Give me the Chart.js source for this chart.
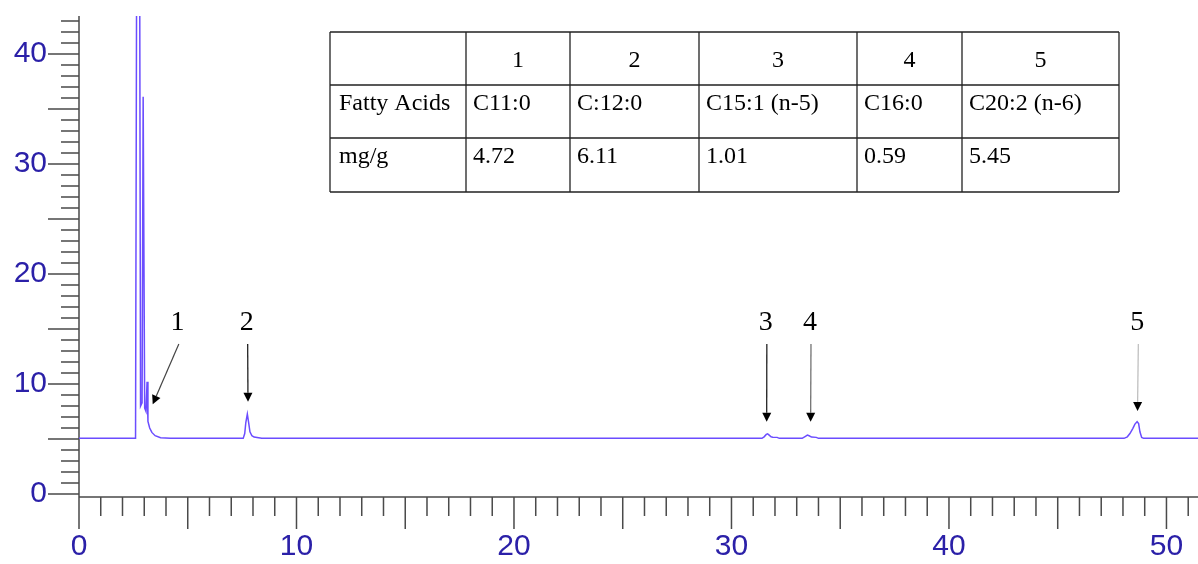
<!DOCTYPE html>
<html><head><meta charset="utf-8">
<script src="https://cdn.jsdelivr.net/npm/chart.js@4.4.1/dist/chart.umd.min.js"></script>
<style>html,body{margin:0;padding:0;background:#fff;overflow:hidden}canvas{display:block}</style>
</head><body>
<canvas id="c" width="1198" height="564"></canvas>
<script>
// ---- data ----
const retentionTime = [0, 2.60, 2.65, 2.79, 2.83, 2.90, 2.95, 3.02, 3.08, 3.13, 3.17, 3.25, 3.35, 3.50, 3.75, 4.20,
  7.55, 7.62, 7.67, 7.74, 7.80, 7.86, 7.95, 8.05, 8.40,
  31.40, 31.50, 31.60, 31.66, 31.72, 31.82, 31.90, 32.10, 32.20,
  33.25, 33.40, 33.49, 33.57, 33.68, 33.90, 34.00,
  48.05, 48.20, 48.32, 48.45, 48.55, 48.65, 48.72, 48.78, 48.86, 48.95, 51.45];
const signal = [5.06, 5.06, 48, 48, 8.0, 8.3, 36.1, 7.8, 7.5, 10.2, 6.6, 6.0, 5.6, 5.3, 5.12, 5.06,
  5.06, 5.5, 6.5, 7.27, 6.5, 5.66, 5.3, 5.18, 5.06,
  5.06, 5.2, 5.42, 5.47, 5.38, 5.2, 5.17, 5.15, 5.06,
  5.06, 5.25, 5.36, 5.3, 5.18, 5.15, 5.06,
  5.06, 5.2, 5.5, 5.95, 6.36, 6.57, 6.4, 5.66, 5.15, 5.06, 5.06];
const xTickLabels = [0, 10, 20, 30, 40, 50];
const yTickLabels = [0, 10, 20, 30, 40];
const peakNumbers = ['1', '2', '3', '4', '5'];
const peakLabelTime = [4.53, 7.71, 31.58, 33.61, 48.66];
const arrowTipTime = [3.39, 7.77, 31.62, 33.64, 48.67];
const arrowTipSignal = [8.15, 8.39, 6.57, 6.57, 7.55];
const peakLabelSignal = 15.55;
const arrowStartSignal = 13.64;
const tableHeader = ['', '1', '2', '3', '4', '5'];
const fattyAcids = ['Fatty Acids', 'C11:0', 'C:12:0', 'C15:1 (n-5)', 'C16:0', 'C20:2 (n-6)'];
const contentMgG = ['mg/g', '4.72', '6.11', '1.01', '0.59', '5.45'];

// ---- styles ----
const arrowLineColors = ['#444', '#111', '#111', '#666', '#bbb'];
const AXIS = '#4a4a4a';
const TICKTXT = '#2b20a8';

const axesPlugin = {
  id: 'axesTicks',
  beforeDatasetsDraw(chart) {
    const {ctx, chartArea: a, scales: {x, y}} = chart;
    ctx.save();
    ctx.strokeStyle = AXIS; ctx.lineWidth = 1.5;
    ctx.beginPath();
    ctx.moveTo(a.left, a.top); ctx.lineTo(a.left, a.bottom + 32);
    ctx.moveTo(a.left, a.bottom); ctx.lineTo(a.right, a.bottom);
    y.ticks.forEach(t => {
      if (t.value < y.min || t.value > y.max) return;
      const p = y.getPixelForValue(t.value);
      const L = t.value % 5 === 0 ? 31 : 18;
      ctx.moveTo(a.left - L, p); ctx.lineTo(a.left, p);
    });
    x.ticks.forEach(t => {
      if (t.value < x.min || t.value > x.max) return;
      const p = x.getPixelForValue(t.value);
      const L = t.value % 5 === 0 ? 32 : 19;
      ctx.moveTo(p, a.bottom); ctx.lineTo(p, a.bottom + L);
    });
    ctx.stroke();
    ctx.restore();
  },
  afterDraw(chart) {
    const {ctx, scales: {x, y}} = chart;
    ctx.save();
    // peak labels and arrows
    peakNumbers.forEach((n, i) => {
      const lx = x.getPixelForValue(peakLabelTime[i]);
      const ly = y.getPixelForValue(peakLabelSignal);
      ctx.font = '28px "Liberation Serif"';
      ctx.fillStyle = '#000'; ctx.textAlign = 'center'; ctx.textBaseline = 'middle';
      ctx.fillText(n, lx, ly);
      const sx = lx + (i === 0 ? 1.3 : 1), sy = y.getPixelForValue(arrowStartSignal);
      const tx = x.getPixelForValue(arrowTipTime[i]), ty = y.getPixelForValue(arrowTipSignal[i]);
      const ang = Math.atan2(ty - sy, tx - sx);
      const hl = 9, hw = 4.5;
      const bx = tx - hl * Math.cos(ang), by = ty - hl * Math.sin(ang);
      ctx.strokeStyle = arrowLineColors[i]; ctx.lineWidth = 1.2;
      ctx.beginPath(); ctx.moveTo(sx, sy); ctx.lineTo(bx, by); ctx.stroke();
      ctx.fillStyle = '#000';
      ctx.beginPath();
      ctx.moveTo(tx, ty);
      ctx.lineTo(bx + hw * Math.sin(ang), by - hw * Math.cos(ang));
      ctx.lineTo(bx - hw * Math.sin(ang), by + hw * Math.cos(ang));
      ctx.closePath(); ctx.fill();
    });
    // table
    const colX = [330, 466, 570, 699, 857, 962, 1119];
    const rowY = [32, 85, 138, 192];
    ctx.fillStyle = '#fff';
    ctx.fillRect(colX[0], rowY[0], colX[6] - colX[0], rowY[3] - rowY[0]);
    ctx.strokeStyle = '#222'; ctx.lineWidth = 1.3;
    ctx.beginPath();
    colX.forEach(cx => { ctx.moveTo(cx, rowY[0]); ctx.lineTo(cx, rowY[3]); });
    rowY.forEach(ry => { ctx.moveTo(colX[0], ry); ctx.lineTo(colX[6], ry); });
    ctx.stroke();
    ctx.fillStyle = '#000';
    ctx.font = '24px "Liberation Serif"';
    ctx.textBaseline = 'alphabetic';
    ctx.textAlign = 'center';
    tableHeader.forEach((h, i) => ctx.fillText(h, (colX[i] + colX[i + 1]) / 2, 67));
    ctx.textAlign = 'left';
    fattyAcids.forEach((s, i) => ctx.fillText(s, colX[i] + (i === 0 ? 9 : 7), 109.5));
    contentMgG.forEach((s, i) => ctx.fillText(s, colX[i] + (i === 0 ? 9 : 7), 162.5));
    ctx.restore();
  }
};

new Chart(document.getElementById('c'), {
  type: 'line',
  data: {
    datasets: [{
      data: retentionTime.map((t, i) => ({x: t, y: signal[i]})),
      borderColor: '#6b4dff',
      borderWidth: 1.5,
      pointRadius: 0,
      tension: 0,
      fill: false
    }]
  },
  options: {
    responsive: false,
    animation: false,
    devicePixelRatio: 1,
    layout: {padding: {top: 16, left: 0, right: 0, bottom: 0}},
    plugins: {legend: {display: false}, tooltip: {enabled: false}},
    scales: {
      x: {
        type: 'linear', min: 0, max: 51.45,
        grid: {display: false, drawTicks: false},
        border: {display: false},
        ticks: {
          stepSize: 1, autoSkip: false, maxRotation: 0, includeBounds: false,
          padding: 32, color: TICKTXT,
          font: {family: 'Liberation Sans', size: 30},
          callback: v => xTickLabels.includes(v) ? String(v) : ''
        },
        afterFit(s) { s.height = 67; s.paddingLeft = 0; s.paddingRight = 0; s.paddingTop = 0; s.paddingBottom = 0; }
      },
      y: {
        type: 'linear', min: -0.27, max: 43.45,
        grid: {display: false, drawTicks: false},
        border: {display: false},
        ticks: {
          stepSize: 1, autoSkip: false, includeBounds: false,
          padding: 32, color: TICKTXT,
          font: {family: 'Liberation Sans', size: 30},
          callback: v => yTickLabels.includes(v) ? String(v) : ''
        },
        afterFit(s) { s.width = 79; s.paddingLeft = 0; s.paddingRight = 0; s.paddingTop = 0; s.paddingBottom = 0; }
      }
    }
  },
  plugins: [axesPlugin]
});
</script>
</body></html>
